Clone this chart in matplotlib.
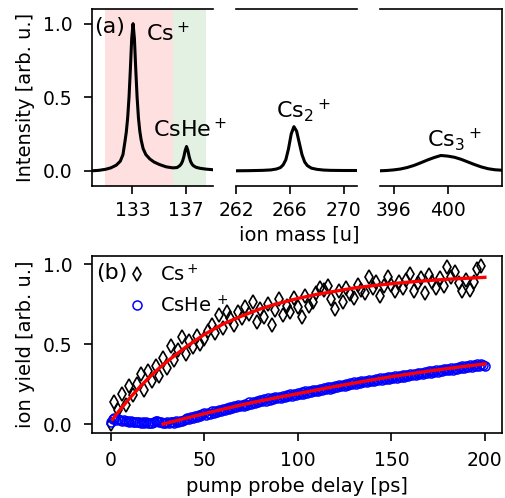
import numpy as np
import matplotlib.pyplot as plt

plt.rcParams['font.size'] = 14

## Panel (a): mass spectrum, three windows of the mass axis
# Cs+ and CsHe+ window
mass_a = [130.0, 130.5, 131.0, 131.4, 131.8, 132.1, 132.3, 132.45, 132.55, 132.65,
          132.75, 132.85, 132.95, 133.05, 133.15, 133.25, 133.35, 133.45, 133.55, 133.65,
          133.8, 134.0, 134.3, 134.6, 135.0, 135.5, 136.0, 136.32, 136.52, 136.62,
          136.72, 136.82, 136.92, 137.02, 137.12, 137.22, 137.32, 137.42, 137.52, 137.72,
          138.02, 138.5, 139.0]
int_a = [0.0, 0.003, 0.01, 0.02, 0.038, 0.065, 0.11, 0.2, 0.265, 0.36,
         0.5, 0.69, 0.9, 1.0, 0.9, 0.69, 0.5, 0.36, 0.27, 0.21,
         0.15, 0.11, 0.08, 0.06, 0.043, 0.027, 0.02, 0.022, 0.035, 0.046,
         0.064, 0.095, 0.138, 0.165, 0.138, 0.095, 0.064, 0.046, 0.035, 0.024,
         0.017, 0.011, 0.007]
# Cs2+ window
mass_b = [262.0, 263.0, 264.0, 264.6, 265.0, 265.3, 265.5, 265.7, 265.9, 266.1,
          266.3, 266.5, 266.7, 266.9, 267.1, 267.3, 267.6, 268.0, 268.5, 269.0,
          270.0, 271.0]
int_b = [0.0, 0.001, 0.003, 0.006, 0.012, 0.022, 0.04, 0.075, 0.15, 0.25,
         0.3, 0.27, 0.19, 0.11, 0.06, 0.035, 0.018, 0.01, 0.005, 0.003,
         0.002, 0.002]
# Cs3+ window
mass_c = [395.0, 395.5, 396.0, 396.5, 397.0, 397.5, 398.0, 398.5, 399.0, 399.5,
          400.0, 400.5, 401.0, 401.5, 402.0, 402.5, 403.0, 403.5, 404.0]
int_c = [0.0, 0.002, 0.006, 0.012, 0.022, 0.036, 0.054, 0.073, 0.09, 0.104,
         0.1, 0.092, 0.078, 0.06, 0.042, 0.026, 0.014, 0.007, 0.004]

## Panel (b): ion yield vs pump probe delay
delay_cs = np.arange(0, 200, 2)
yield_cs = [0.0, 0.14, 0.09, 0.19, 0.12, 0.24, 0.18, 0.25, 0.31, 0.21,
            0.33, 0.27, 0.36, 0.30, 0.41, 0.35, 0.49, 0.40, 0.46, 0.545,
            0.44, 0.52, 0.48, 0.55, 0.50, 0.53, 0.58, 0.62, 0.57, 0.68,
            0.60, 0.70, 0.66, 0.62, 0.70, 0.66, 0.73, 0.69, 0.76, 0.64,
            0.72, 0.67, 0.75, 0.62, 0.71, 0.78, 0.68, 0.74, 0.70, 0.79,
            0.73, 0.67, 0.80, 0.74, 0.76, 0.82, 0.85, 0.84, 0.86, 0.78,
            0.72, 0.83, 0.76, 0.85, 0.81, 0.79, 0.87, 0.84, 0.82, 0.92,
            0.85, 0.89, 0.80, 0.86, 0.92, 0.87, 0.83, 0.89, 0.85, 0.90,
            0.94, 0.83, 0.88, 0.91, 0.82, 0.93, 0.89, 0.85, 0.91, 0.86,
            0.98, 0.92, 0.95, 0.88, 0.83, 0.90, 0.84, 0.89, 0.97, 0.99]

delay_cshe = np.arange(0, 201, 1)
yield_cshe = [0.015, 0.03, 0.035, 0.028, 0.032, 0.025, 0.02, 0.024, 0.018, 0.02,
              0.015, 0.02, 0.012, 0.016, 0.01, 0.014, 0.008, 0.012, 0.006, 0.01,
              0.005, 0.008, 0.004, 0.01, 0.018, 0.022, 0.015, 0.012, 0.004, 0.006,
              0.01, 0.004, 0.012, 0.015, 0.008, 0.02, 0.014, 0.022, 0.018, 0.026,
              0.03, 0.04, 0.034, 0.047, 0.04, 0.052, 0.046, 0.058, 0.052, 0.063,
              0.068, 0.058, 0.072, 0.066, 0.079, 0.07, 0.084, 0.077, 0.09, 0.082,
              0.094, 0.088, 0.1, 0.093, 0.107, 0.099, 0.112, 0.104, 0.117, 0.11,
              0.122, 0.114, 0.128, 0.121, 0.135, 0.127, 0.14, 0.132, 0.145, 0.138,
              0.15, 0.142, 0.155, 0.146, 0.16, 0.152, 0.163, 0.157, 0.168, 0.16,
              0.172, 0.164, 0.177, 0.17, 0.181, 0.174, 0.186, 0.178, 0.19, 0.183,
              0.194, 0.186, 0.199, 0.191, 0.204, 0.196, 0.208, 0.2, 0.212, 0.205,
              0.216, 0.208, 0.221, 0.213, 0.225, 0.218, 0.23, 0.222, 0.234, 0.227,
              0.238, 0.231, 0.243, 0.235, 0.247, 0.24, 0.252, 0.244, 0.256, 0.249,
              0.26, 0.252, 0.264, 0.256, 0.268, 0.26, 0.271, 0.263, 0.275, 0.267,
              0.278, 0.27, 0.281, 0.273, 0.285, 0.277, 0.288, 0.28, 0.292, 0.284,
              0.295, 0.287, 0.298, 0.29, 0.302, 0.294, 0.305, 0.297, 0.309, 0.301,
              0.312, 0.304, 0.315, 0.307, 0.319, 0.311, 0.322, 0.314, 0.326, 0.318,
              0.329, 0.321, 0.332, 0.324, 0.336, 0.328, 0.339, 0.331, 0.343, 0.335,
              0.346, 0.338, 0.349, 0.341, 0.353, 0.345, 0.356, 0.348, 0.36, 0.352,
              0.363, 0.355, 0.367, 0.359, 0.37, 0.362, 0.373, 0.366, 0.376, 0.369,
              0.365]

# Fit curves (red)
fit_cs_t = [1, 5, 10, 15, 20, 25, 30, 40, 50, 60, 70, 80, 90, 100,
            110, 120, 130, 140, 150, 160, 170, 180, 190, 200]
fit_cs_y = [0.03, 0.09, 0.16, 0.225, 0.285, 0.34, 0.39, 0.48, 0.56, 0.625, 0.675, 0.72, 0.755, 0.785,
            0.81, 0.83, 0.85, 0.865, 0.877, 0.888, 0.897, 0.905, 0.911, 0.917]
fit_cshe_t = [28, 40, 50, 60, 70, 80, 90, 100, 110, 120, 130, 140, 150,
              160, 170, 180, 190, 200]
fit_cshe_y = [0.0, 0.036, 0.065, 0.093, 0.12, 0.145, 0.168, 0.19, 0.213, 0.235, 0.256, 0.277, 0.296,
              0.314, 0.331, 0.347, 0.362, 0.376]

fig = plt.figure(figsize=(5.06, 4.98), dpi=100)

# Axes positions in figure fraction
ax1 = fig.add_axes([0.1818, 0.6275, 0.2395, 0.3545])
ax2 = fig.add_axes([0.4664, 0.6275, 0.2395, 0.3545])
ax3 = fig.add_axes([0.7510, 0.6275, 0.2405, 0.3545])

ax1.axvspan(131, 136, color='red', alpha=0.12, lw=0)
ax1.axvspan(136, 138.45, color='green', alpha=0.11, lw=0)

ax1.plot(mass_a, int_a, color='black', lw=2.2)
ax2.plot(mass_b, int_b, color='black', lw=2.2)
ax3.plot(mass_c, int_c, color='black', lw=2.2)

ax1.set_xlim(130, 139)
ax2.set_xlim(262, 271)
ax3.set_xlim(395, 404)
ax1.set_xticks([133, 137])
ax2.set_xticks([262, 266, 270])
ax3.set_xticks([396, 400])

for ax in [ax1, ax2, ax3]:
    ax.set_ylim(-0.1, 1.1)
    ax.tick_params(length=6, width=1.2, pad=5, labelsize=13.5)
    ax.tick_params(axis='y', pad=8)
    for s in ax.spines.values():
        s.set_linewidth(1.2)

ax1.set_yticks([0.0, 0.5, 1.0])
ax1.spines['right'].set_visible(False)
ax2.spines['left'].set_visible(False)
ax2.spines['right'].set_visible(False)
ax3.spines['left'].set_visible(False)
ax2.tick_params(left=False, labelleft=False)
ax3.tick_params(left=False, labelleft=False)

ax1.set_ylabel("Intensity [arb. u.]")
ax1.yaxis.set_label_coords(-0.47, 0.5)

ax1.text(0.02, 0.9, "(a)", transform=ax1.transAxes, va='center', ha='left', fontsize=16)
ax1.text(134.0, 0.88, "Cs$^+$", fontsize=16)
ax1.text(134.55, 0.23, "CsHe$^+$", fontsize=16)
ax2.text(265.0, 0.365, "Cs$_2$$^+$", fontsize=16)
ax3.text(398.5, 0.165, "Cs$_3$$^+$", fontsize=16)

fig.text(0.592, 0.528, "ion mass [u]", ha='center', va='center')

## Panel (b)
ax4 = fig.add_axes([0.1818, 0.1311, 0.8097, 0.3554])
ax4.plot(delay_cs, yield_cs, linestyle='none', marker='d', ms=7, mfc='none',
         mec='black', mew=1.2, label="Cs$^+$")
ax4.plot(delay_cshe, yield_cshe, linestyle='none', marker='o', ms=6.5, mfc='none',
         mec='blue', mew=1.1, label="CsHe$\\,^+$")
ax4.plot(fit_cs_t, fit_cs_y, color='red', lw=2.4, zorder=5)
ax4.plot(fit_cshe_t, fit_cshe_y, color='red', lw=2.4, zorder=5)

ax4.set_xlim(-10, 209)
ax4.set_ylim(-0.054, 1.052)
ax4.set_xticks([0, 50, 100, 150, 200])
ax4.set_yticks([0.0, 0.5, 1.0])
ax4.tick_params(length=6, width=1.2, pad=7, labelsize=13.5)
ax4.tick_params(axis='y', pad=8)
for s in ax4.spines.values():
    s.set_linewidth(1.2)

ax4.set_xlabel("pump probe delay [ps]", labelpad=5)
ax4.set_ylabel("ion yield [arb. u.]")
ax4.yaxis.set_label_coords(-0.14, 0.5)

ax4.text(0.01, 0.9, "(b)", transform=ax4.transAxes, va='center', ha='left', fontsize=16)
ax4.legend(loc='upper left', bbox_to_anchor=(0.085, 0.955), frameon=False,
           handlelength=1.0, handletextpad=0.7, borderpad=0, borderaxespad=0)

fig.savefig("out.png", dpi=100)
